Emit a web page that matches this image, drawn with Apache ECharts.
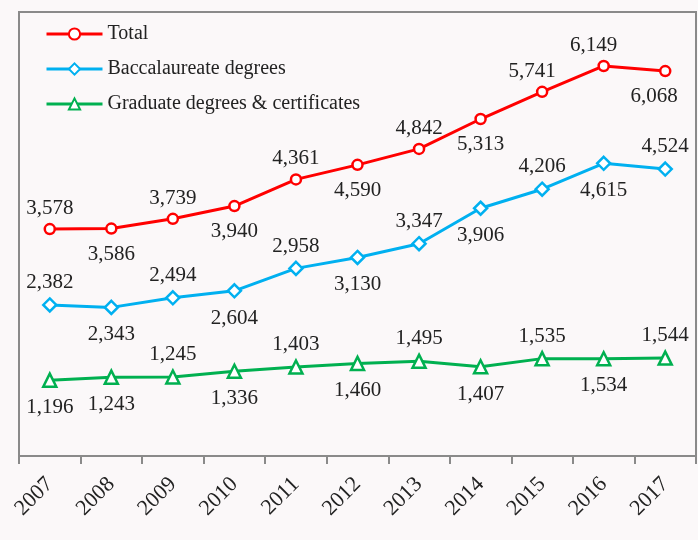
<!DOCTYPE html>
<html>
<head>
<meta charset="utf-8">
<script src="https://cdn.jsdelivr.net/npm/echarts@6/dist/echarts.min.js"></script>
<style>
  html, body { margin: 0; padding: 0; background: #fbf8f9; }
  #chart { width: 698px; height: 540px; }
</style>
</head>
<body>
<div id="chart"></div>
<script>
// data
var years = ['2007', '2008', '2009', '2010', '2011', '2012', '2013', '2014', '2015', '2016', '2017'];
var total = [3578, 3586, 3739, 3940, 4361, 4590, 4842, 5313, 5741, 6149, 6068];
var bacc = [2382, 2343, 2494, 2604, 2958, 3130, 3347, 3906, 4206, 4615, 4524];
var grad = [1196, 1243, 1245, 1336, 1403, 1460, 1495, 1407, 1535, 1534, 1544];

// where each value label sits (t = above, b = below)
var totalPos = 'tbtbtbtbttb';
var baccPos = 'tbtbtbtbtbt';
var gradPos = 'bbtbtbtbtbt';
var totalShift = { 8: -10, 9: -10, 10: -11 };

var fontName = '"Liberation Serif", "Times New Roman", serif';

function items(vals, pos, shift) {
  shift = shift || {};
  return vals.map(function (v, i) {
    var up = pos[i] === 't';
    var lab = { position: up ? 'top' : 'bottom', distance: up ? 4 : 9 };
    if (shift[i]) lab.offset = [shift[i], 0];
    return { value: v, label: lab };
  });
}

function series(name, color, symbol, size, vals, pos, shift) {
  return {
    name: name,
    type: 'line',
    data: items(vals, pos, shift),
    symbol: symbol,
    symbolSize: size,
    showAllSymbol: true,
    lineStyle: { color: color, width: 3 },
    itemStyle: { color: '#ffffff', borderColor: color, borderWidth: 2.5 },
    label: {
      show: true,
      fontFamily: fontName,
      fontSize: 21,
      color: '#222',
      formatter: function (p) { return p.value.toLocaleString('en-US'); }
    },
    emphasis: { disabled: true },
    animation: false
  };
}

var chart = echarts.init(document.getElementById('chart'));
chart.setOption({
  backgroundColor: '#fbf8f9',
  textStyle: { fontFamily: fontName },
  legend: {
    orient: 'vertical',
    left: 40,
    top: 19,
    itemWidth: 56,
    itemHeight: 14,
    itemGap: 15,
    lineStyle: { width: 3 },
    textStyle: { fontFamily: fontName, fontSize: 20, color: '#222' },
    data: ['Total', 'Baccalaureate degrees', 'Graduate degrees & certificates']
  },
  grid: {
    left: 19,
    right: 2,
    top: 12,
    bottom: 84,
    show: true,
    borderColor: '#8a8a8a',
    borderWidth: 2,
    backgroundColor: 'transparent'
  },
  xAxis: {
    type: 'category',
    data: years,
    boundaryGap: true,
    axisLine: { lineStyle: { color: '#8a8a8a', width: 2 } },
    axisTick: { show: true, length: 8, lineStyle: { color: '#8a8a8a', width: 2 } },
    axisLabel: {
      rotate: 45,
      margin: 25,
      fontFamily: fontName,
      fontSize: 22,
      color: '#222'
    }
  },
  yAxis: {
    type: 'value',
    min: 0,
    max: 7000,
    show: false,
    splitLine: { show: false }
  },
  series: [
    series('Total', '#ff0000', 'circle', 10, total, totalPos, totalShift),
    series('Baccalaureate degrees', '#00b0f0', 'diamond', 13, bacc, baccPos),
    series('Graduate degrees & certificates', '#00b050', 'triangle', 13, grad, gradPos)
  ]
});
</script>
</body>
</html>
